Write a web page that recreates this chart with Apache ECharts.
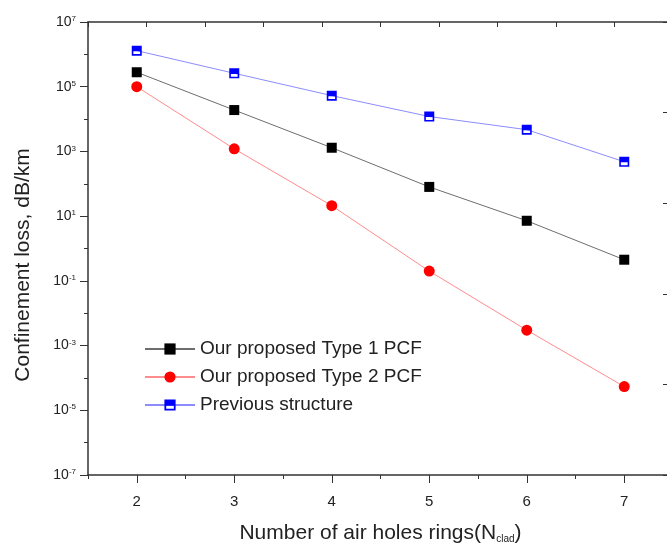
<!DOCTYPE html>
<html>
<head>
<meta charset="utf-8">
<script src="https://cdn.jsdelivr.net/npm/echarts@6/dist/echarts.min.js"></script>
<style>
html,body{margin:0;padding:0;background:#fff;}
#chart{width:667px;height:550px;}
</style>
</head>
<body>
<div id="chart"></div>
<script>
// ---- data ----
var rings = [2, 3, 4, 5, 6, 7];
var type1Loss = [2.8e5, 1.9e4, 1.3e3, 80, 7.2, 0.45];
var type2Loss = [1.0e5, 1.2e3, 21, 0.2, 3.0e-3, 5.4e-5];
var previousLoss = [1.3e6, 2.6e5, 5.3e4, 1.2e4, 4.7e3, 480];
var xTickValues = [2, 3, 4, 5, 6, 7];
var seriesNames = ['Our proposed Type 1 PCF', 'Our proposed Type 2 PCF', 'Previous structure'];

function pairs(xs, ys) { return xs.map(function (x, i) { return [x, ys[i]]; }); }

var FONT = "'Liberation Sans', Arial, sans-serif";
var AXIS_COLOR = '#333';
var chart = echarts.init(document.getElementById('chart'), null, { renderer: 'canvas' });

var option = {
  animation: false,
  backgroundColor: '#fff',
  grid: { left: 88, right: -6, top: 22, bottom: 75, containLabel: false, outerBoundsMode: 'none' },
  legend: {
    orient: 'vertical',
    left: 139,
    top: 334,
    itemWidth: 50,
    itemHeight: 14,
    itemGap: 8,
    data: seriesNames,
    textStyle: { fontFamily: FONT, fontSize: 19, color: '#222', lineHeight: 20 }
  },
  xAxis: [
    {
      type: 'value', min: 1.5, max: 7.5, interval: 0.5, position: 'bottom',
      axisLine: { show: true, onZero: false, lineStyle: { color: AXIS_COLOR, width: 1.5 } },
      axisTick: { show: true, inside: false, length: 8, customValues: xTickValues, lineStyle: { color: AXIS_COLOR, width: 1 } },
      axisLabel: {
        show: true, margin: 19, customValues: xTickValues,
        fontFamily: FONT, fontSize: 15, color: '#222',
        formatter: function (v) { return Number.isInteger(v) ? String(v) : ''; }
      },
      splitLine: { show: false },
      name: '{a|Number of air holes rings(N}{b|clad}{a|)}',
      nameLocation: 'middle', nameGap: 47,
      nameTextStyle: {
        rich: {
          a: { fontFamily: FONT, fontSize: 21, color: '#222' },
          b: { fontFamily: FONT, fontSize: 10, color: '#222', verticalAlign: 'bottom', padding: [12, 0, 0, 0] }
        }
      }
    },
    {
      type: 'value', min: 1.5, max: 7.5, interval: 0.5, position: 'bottom',
      axisLine: { show: false, onZero: false },
      axisTick: { show: true, inside: false, length: 4, lineStyle: { color: AXIS_COLOR, width: 1 } },
      axisLabel: { show: false },
      splitLine: { show: false }
    },
    {
      type: 'value', min: 0, max: 10, interval: 1, position: 'top',
      axisLine: { show: true, onZero: false, lineStyle: { color: AXIS_COLOR, width: 1.5 } },
      axisTick: { show: true, inside: true, length: 5, lineStyle: { color: AXIS_COLOR, width: 1 } },
      axisLabel: { show: false },
      splitLine: { show: false }
    }
  ],
  yAxis: [
    {
      type: 'log', logBase: 10, min: 1e-7, max: 1e7, position: 'left',
      axisLine: { show: true, onZero: false, lineStyle: { color: AXIS_COLOR, width: 1.5 } },
      axisTick: { show: false },
      axisLabel: { show: false },
      splitLine: { show: false },
      minorTick: { show: false }
    },
    {
      type: 'value', min: -7, max: 7, interval: 2, position: 'left',
      axisLine: { show: false, onZero: false },
      axisTick: { show: true, inside: false, length: 8, lineStyle: { color: AXIS_COLOR, width: 1 } },
      axisLabel: {
        show: true, margin: 12,
        formatter: function (v) { return '{b|10}{s|' + Math.round(v) + '}'; },
        rich: {
          b: { fontFamily: FONT, fontSize: 14, color: '#222' },
          s: { fontFamily: FONT, fontSize: 8, color: '#222', verticalAlign: 'top' }
        }
      },
      splitLine: { show: false }
    },
    {
      type: 'value', min: -7, max: 7, interval: 1, position: 'left',
      axisLine: { show: false, onZero: false },
      axisTick: { show: true, inside: false, length: 4, lineStyle: { color: AXIS_COLOR, width: 1 } },
      axisLabel: { show: false },
      splitLine: { show: false }
    },
    {
      type: 'value', min: 0, max: 5, interval: 1, position: 'right',
      axisLine: { show: true, onZero: false, lineStyle: { color: AXIS_COLOR, width: 1.5 } },
      axisTick: { show: true, inside: true, length: 10, lineStyle: { color: AXIS_COLOR, width: 1 } },
      axisLabel: { show: false },
      splitLine: { show: false }
    }
  ],
  graphic: [
    {
      type: 'text', x: 23, y: 265, rotation: Math.PI / 2,
      style: {
        text: 'Confinement loss, dB/km',
        fontFamily: FONT, fontSize: 21, fill: '#222',
        textAlign: 'center', textVerticalAlign: 'middle'
      }
    }
  ],
  series: [
    {
      name: seriesNames[0], type: 'line', xAxisIndex: 0, yAxisIndex: 0,
      data: pairs(rings, type1Loss),
      symbol: 'rect', symbolSize: 10,
      itemStyle: { color: '#000' },
      lineStyle: { color: '#6e6e6e', width: 1 },
      z: 3
    },
    {
      name: seriesNames[1], type: 'line', xAxisIndex: 0, yAxisIndex: 0,
      data: pairs(rings, type2Loss),
      symbol: 'circle', symbolSize: 11,
      itemStyle: { color: '#ff0000' },
      lineStyle: { color: '#ff8c8c', width: 1 },
      z: 3
    },
    {
      name: seriesNames[2], type: 'line', xAxisIndex: 0, yAxisIndex: 0,
      data: pairs(rings, previousLoss),
      symbol: 'path://M0,0H10V10H0Z M1.6,5.6V8.4H8.4V5.6Z', symbolSize: 10,
      itemStyle: { color: '#0000ff' },
      lineStyle: { color: '#8c8cff', width: 1 },
      z: 3
    }
  ]
};
chart.setOption(option);
</script>
</body>
</html>
